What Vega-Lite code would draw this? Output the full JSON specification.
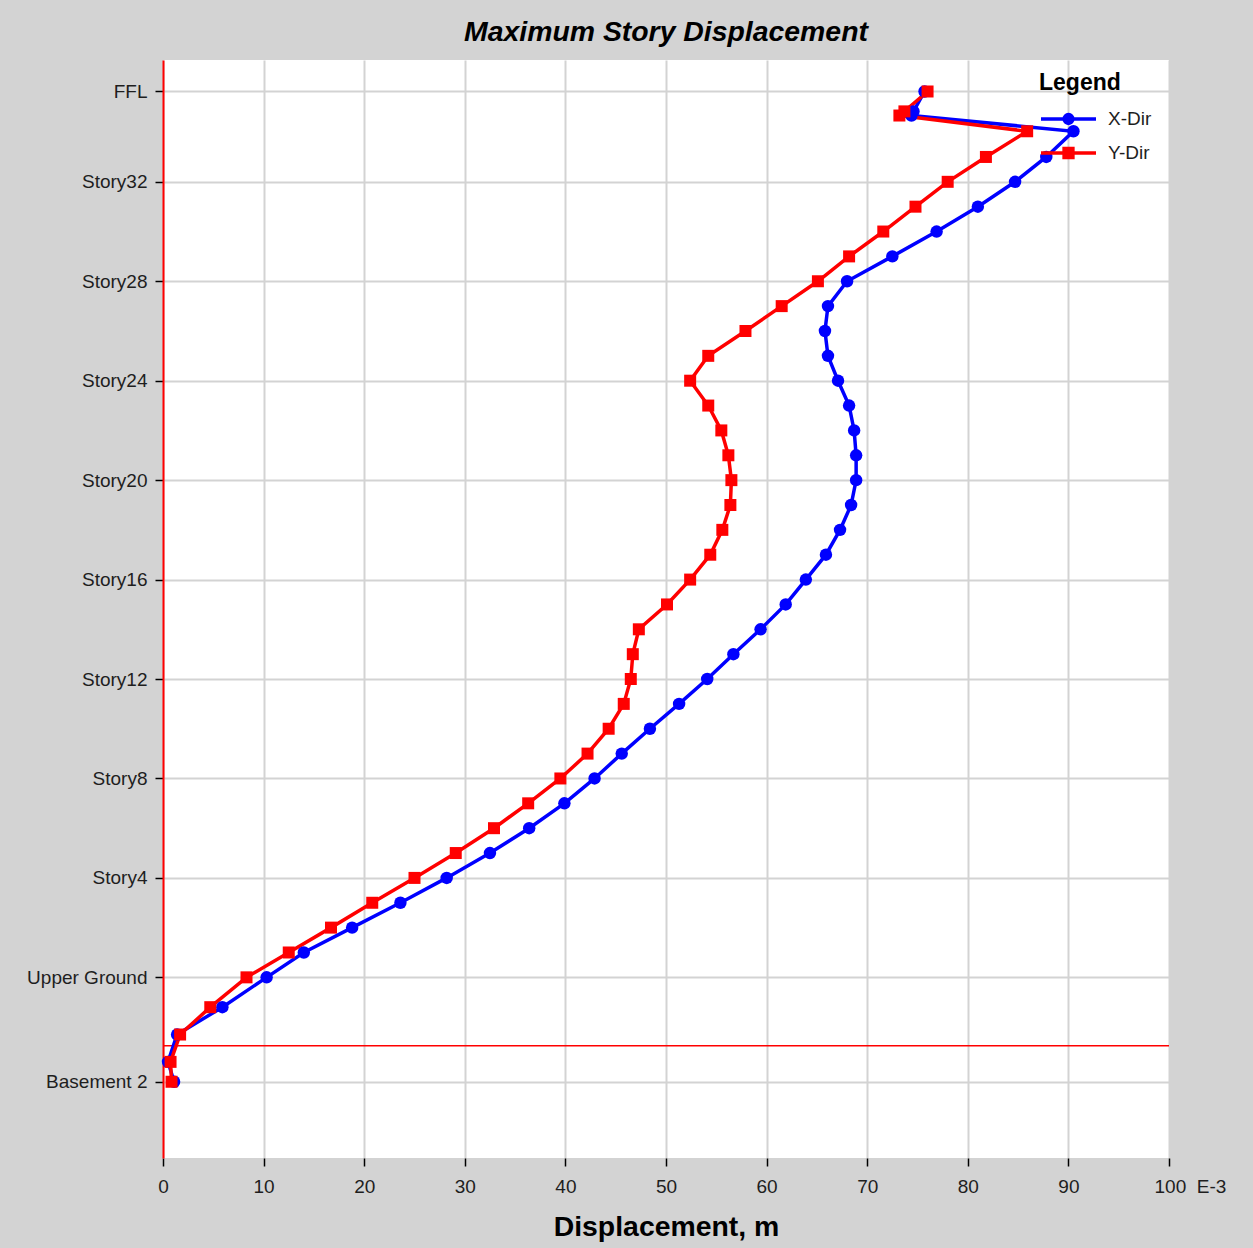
{
  "$schema": "https://vega.github.io/schema/vega-lite/v6.json",
  "autosize": "none",
  "width": 1006,
  "height": 1098,
  "padding": {"left": 163, "top": 60, "right": 84, "bottom": 90},
  "background": "#d3d3d3",
  "title": {"text": "Maximum Story Displacement", "fontSize": 28.4, "font": "Liberation Sans", "fontStyle": "italic", "fontWeight": "bold", "color": "black", "anchor": "middle", "offset": 13},
  "config": {
    "view": {"fill": "white", "stroke": null},
    "axis": {"labelFont": "Liberation Sans", "titleFont": "Liberation Sans", "labelColor": "#1e1e1e", "gridColor": "#d3d3d3", "gridWidth": 2, "tickColor": "black", "tickWidth": 1.5, "tickSize": 8, "labelFontSize": 19, "labelFlush": false}
  },
  "datasets": {
    "disp": [
      {"elev": 119.5, "series": "X-Dir", "disp": 75.7}, {"elev": 119.5, "series": "Y-Dir", "disp": 76.0},
      {"elev": 117.1, "series": "X-Dir", "disp": 74.6}, {"elev": 117.1, "series": "Y-Dir", "disp": 73.7},
      {"elev": 116.6, "series": "X-Dir", "disp": 74.4}, {"elev": 116.6, "series": "Y-Dir", "disp": 73.2},
      {"elev": 114.7, "series": "X-Dir", "disp": 90.5}, {"elev": 114.7, "series": "Y-Dir", "disp": 85.9},
      {"elev": 111.6, "series": "X-Dir", "disp": 87.8}, {"elev": 111.6, "series": "Y-Dir", "disp": 81.8},
      {"elev": 108.6, "series": "X-Dir", "disp": 84.7}, {"elev": 108.6, "series": "Y-Dir", "disp": 78.0},
      {"elev": 105.6, "series": "X-Dir", "disp": 81.0}, {"elev": 105.6, "series": "Y-Dir", "disp": 74.8},
      {"elev": 102.6, "series": "X-Dir", "disp": 76.9}, {"elev": 102.6, "series": "Y-Dir", "disp": 71.6},
      {"elev": 99.6, "series": "X-Dir", "disp": 72.5}, {"elev": 99.6, "series": "Y-Dir", "disp": 68.2},
      {"elev": 96.6, "series": "X-Dir", "disp": 68.0}, {"elev": 96.6, "series": "Y-Dir", "disp": 65.1},
      {"elev": 93.6, "series": "X-Dir", "disp": 66.1}, {"elev": 93.6, "series": "Y-Dir", "disp": 61.5},
      {"elev": 90.6, "series": "X-Dir", "disp": 65.8}, {"elev": 90.6, "series": "Y-Dir", "disp": 57.9},
      {"elev": 87.6, "series": "X-Dir", "disp": 66.1}, {"elev": 87.6, "series": "Y-Dir", "disp": 54.2},
      {"elev": 84.6, "series": "X-Dir", "disp": 67.1}, {"elev": 84.6, "series": "Y-Dir", "disp": 52.4},
      {"elev": 81.6, "series": "X-Dir", "disp": 68.2}, {"elev": 81.6, "series": "Y-Dir", "disp": 54.2},
      {"elev": 78.6, "series": "X-Dir", "disp": 68.7}, {"elev": 78.6, "series": "Y-Dir", "disp": 55.5},
      {"elev": 75.6, "series": "X-Dir", "disp": 68.9}, {"elev": 75.6, "series": "Y-Dir", "disp": 56.2},
      {"elev": 72.6, "series": "X-Dir", "disp": 68.9}, {"elev": 72.6, "series": "Y-Dir", "disp": 56.5},
      {"elev": 69.6, "series": "X-Dir", "disp": 68.4}, {"elev": 69.6, "series": "Y-Dir", "disp": 56.4},
      {"elev": 66.6, "series": "X-Dir", "disp": 67.3}, {"elev": 66.6, "series": "Y-Dir", "disp": 55.6},
      {"elev": 63.6, "series": "X-Dir", "disp": 65.9}, {"elev": 63.6, "series": "Y-Dir", "disp": 54.4},
      {"elev": 60.6, "series": "X-Dir", "disp": 63.9}, {"elev": 60.6, "series": "Y-Dir", "disp": 52.4},
      {"elev": 57.6, "series": "X-Dir", "disp": 61.9}, {"elev": 57.6, "series": "Y-Dir", "disp": 50.1},
      {"elev": 54.6, "series": "X-Dir", "disp": 59.4}, {"elev": 54.6, "series": "Y-Dir", "disp": 47.3},
      {"elev": 51.6, "series": "X-Dir", "disp": 56.7}, {"elev": 51.6, "series": "Y-Dir", "disp": 46.7},
      {"elev": 48.6, "series": "X-Dir", "disp": 54.1}, {"elev": 48.6, "series": "Y-Dir", "disp": 46.5},
      {"elev": 45.6, "series": "X-Dir", "disp": 51.3}, {"elev": 45.6, "series": "Y-Dir", "disp": 45.8},
      {"elev": 42.6, "series": "X-Dir", "disp": 48.4}, {"elev": 42.6, "series": "Y-Dir", "disp": 44.3},
      {"elev": 39.6, "series": "X-Dir", "disp": 45.6}, {"elev": 39.6, "series": "Y-Dir", "disp": 42.2},
      {"elev": 36.6, "series": "X-Dir", "disp": 42.9}, {"elev": 36.6, "series": "Y-Dir", "disp": 39.5},
      {"elev": 33.6, "series": "X-Dir", "disp": 39.9}, {"elev": 33.6, "series": "Y-Dir", "disp": 36.3},
      {"elev": 30.6, "series": "X-Dir", "disp": 36.4}, {"elev": 30.6, "series": "Y-Dir", "disp": 32.9},
      {"elev": 27.6, "series": "X-Dir", "disp": 32.5}, {"elev": 27.6, "series": "Y-Dir", "disp": 29.1},
      {"elev": 24.6, "series": "X-Dir", "disp": 28.2}, {"elev": 24.6, "series": "Y-Dir", "disp": 25.0},
      {"elev": 21.6, "series": "X-Dir", "disp": 23.6}, {"elev": 21.6, "series": "Y-Dir", "disp": 20.8},
      {"elev": 18.6, "series": "X-Dir", "disp": 18.8}, {"elev": 18.6, "series": "Y-Dir", "disp": 16.7},
      {"elev": 15.6, "series": "X-Dir", "disp": 14.0}, {"elev": 15.6, "series": "Y-Dir", "disp": 12.5},
      {"elev": 12.6, "series": "X-Dir", "disp": 10.3}, {"elev": 12.6, "series": "Y-Dir", "disp": 8.3},
      {"elev": 9.0, "series": "X-Dir", "disp": 5.9}, {"elev": 9.0, "series": "Y-Dir", "disp": 4.7},
      {"elev": 5.7, "series": "X-Dir", "disp": 1.4}, {"elev": 5.7, "series": "Y-Dir", "disp": 1.7},
      {"elev": 2.4, "series": "X-Dir", "disp": 0.5}, {"elev": 2.4, "series": "Y-Dir", "disp": 0.75},
      {"elev": 0, "series": "X-Dir", "disp": 1.1}, {"elev": 0, "series": "Y-Dir", "disp": 0.85}
    ],
    "base": [{"elev": 4.34}]
  },
  "encoding": {
    "x": {"field": "disp", "type": "quantitative", "scale": {"domain": [0, 100], "nice": false},
      "axis": {"values": [0, 10, 20, 30, 40, 50, 60, 70, 80, 90, 100], "domain": false, "grid": true, "labelPadding": 11,
        "labelExpr": "datum.value == 100 ? '100\u00a0\u00a0E-3' : datum.label",
        "labelAlign": {"expr": "datum.value == 100 ? 'left' : 'center'"},
        "labelOffset": {"expr": "datum.value == 100 ? -15 : 0"},
        "title": "Displacement, m", "titleFontSize": 28.4, "titleFontWeight": "bold", "titleColor": "black", "titlePadding": 17}},
    "y": {"field": "elev", "type": "quantitative", "scale": {"domain": [-9.2, 123.3], "nice": false, "zero": false},
      "axis": {"values": [0, 12.6, 24.6, 36.6, 48.6, 60.6, 72.6, 84.6, 96.6, 108.6, 119.5], "title": null, "grid": true,
        "domainColor": "#ff0000", "domainWidth": 2, "labelPadding": 8,
        "labelExpr": "datum.value == 119.5 ? 'FFL' : datum.value == 0 ? 'Basement 2' : datum.value == 12.6 ? 'Upper Ground' : 'Story' + round((datum.value - 12.6) / 3)"}}
  },
  "layer": [
    {
      "data": {"name": "base"},
      "mark": {"type": "rule", "color": "#ff0000", "strokeWidth": 1.5},
      "encoding": {"x": null}
    },
    {
      "data": {"name": "disp"},
      "transform": [{"filter": "datum.series == 'X-Dir'"}],
      "mark": {"type": "line", "strokeWidth": 3.5, "color": "#0000ff"},
      "encoding": {"order": {"field": "elev", "type": "quantitative"}}
    },
    {
      "data": {"name": "disp"},
      "transform": [{"filter": "datum.series == 'Y-Dir'"}],
      "mark": {"type": "line", "strokeWidth": 3.5, "color": "#ff0000"},
      "encoding": {"order": {"field": "elev", "type": "quantitative"}}
    },
    {
      "data": {"name": "disp"},
      "transform": [{"filter": "datum.series == 'X-Dir'"}],
      "mark": {"type": "point", "shape": "circle", "filled": true, "opacity": 1, "size": 155, "color": "#0000ff"}
    },
    {
      "data": {"name": "disp"},
      "transform": [{"filter": "datum.series == 'Y-Dir'"}],
      "mark": {"type": "point", "shape": "square", "filled": true, "opacity": 1, "size": 144, "color": "#ff0000"}
    },
    {
      "data": {"name": "disp"},
      "mark": {"type": "point", "filled": true, "opacity": 0, "strokeWidth": 3.5},
      "encoding": {
        "color": {"field": "series", "type": "nominal", "scale": {"domain": ["X-Dir", "Y-Dir"], "range": ["#0000ff", "#ff0000"]},
          "legend": {"title": "Legend", "titleFont": "Liberation Sans", "titleFontSize": 23, "titleFontWeight": "bold", "titleColor": "black", "titleAnchor": "start", "titlePadding": 12,
            "labelFont": "Liberation Sans", "labelFontSize": 19, "labelColor": "#1e1e1e", "labelOffset": 10,
            "symbolSize": 3025, "symbolStrokeWidth": 3.5, "symbolOpacity": 1, "clipHeight": 24, "rowPadding": 10,
            "orient": "none", "legendX": 876, "legendY": 12}},
        "stroke": {"field": "series", "type": "nominal", "scale": {"domain": ["X-Dir", "Y-Dir"], "range": ["#0000ff", "#ff0000"]}},
        "shape": {"field": "series", "type": "nominal", "scale": {"domain": ["X-Dir", "Y-Dir"], "range": ["M-1,0H1M-0.16,0A0.16,0.16,0,1,1,0.16,0A0.16,0.16,0,1,1,-0.16,0ZM-0.06,0A0.06,0.06,0,1,1,0.06,0A0.06,0.06,0,1,1,-0.06,0Z", "M-1,0H1M-0.16,-0.16H0.16V0.16H-0.16ZM-0.05,-0.05H0.05V0.05H-0.05Z"]}}
      }
    }
  ]
}
